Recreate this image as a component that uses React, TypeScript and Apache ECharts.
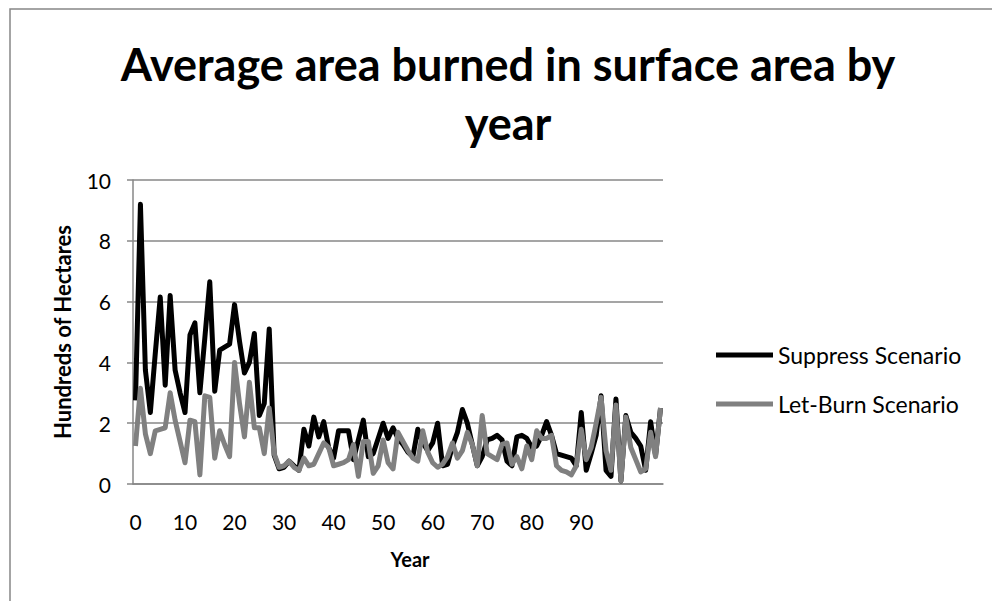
import React, { useEffect, useRef } from "react";
import * as echarts from "echarts";

// Simulation years on the category axis (0 .. 106)
const years: string[] = Array.from({ length: 107 }, (_, i) => String(i));
// Only these years carry a printed label under the axis
const labelledYears = ["0", "10", "20", "30", "40", "50", "60", "70", "80", "90"];

// Average area burned (hundreds of hectares), suppression policy
const suppress: number[] = [
  2.75, 9.2, 3.75, 2.35, 4.3, 6.15, 3.25, 6.2, 3.75, 3.0,
  2.35, 4.9, 5.3, 3.0, 4.8, 6.65, 3.05, 4.4, 4.5,
  4.6, 5.9, 4.7, 3.65, 4.0, 4.95, 2.25, 2.65, 5.1, 0.95,
  0.5, 0.55, 0.75, 0.6, 0.45, 1.8, 1.25, 2.2, 1.55, 2.05,
  1.2, 0.85, 1.75, 1.75,
  1.75, 0.8, 1.45, 2.1, 0.9, 1.0, 1.5, 2.0, 1.5, 1.85, 1.5, 1.3,
  1.05, 0.9, 1.8, 1.35, 1.1, 1.35, 2.0, 0.6, 0.65, 1.25,
  1.7, 2.45, 2.0, 1.3, 0.6, 0.9, 1.45, 1.5,
  1.6, 1.45, 0.75, 0.6, 1.55, 1.6, 1.5, 1.2, 1.25, 1.6,
  2.05, 1.6, 1.0, 0.95, 0.9,
  0.85, 0.6, 2.35, 0.45, 1.0, 1.6, 2.9, 0.45, 0.25, 2.8,
  0.1, 2.25, 1.7, 1.5,
  1.25, 0.45, 2.05, 0.95, 2.5,
];

// Average area burned (hundreds of hectares), let-burn policy
const letBurn: number[] = [
  1.25, 3.15, 1.65, 1.0, 1.75, 1.8, 1.85, 3.0, 2.1, 1.4,
  0.7, 2.1, 2.05, 0.3, 2.9, 2.85, 0.85, 1.75, 1.3,
  0.9, 4.0, 2.65, 1.55, 3.35, 1.85, 1.85, 1.0, 2.5, 1.0,
  0.55, 0.6, 0.75, 0.55, 0.45, 0.85, 0.6, 0.65, 1.0, 1.35,
  1.2, 0.6, 0.65, 0.7,
  0.8, 1.3, 0.25, 1.4, 1.4, 0.35, 0.6, 1.45, 0.7, 0.5, 1.7, 1.4,
  1.1, 0.85, 0.75, 1.75, 1.05, 0.7, 0.55, 0.65, 0.9, 1.35,
  0.85, 1.1, 1.7, 1.3, 0.6, 2.25, 1.0, 0.9,
  0.8, 1.3, 1.35, 0.65, 0.9, 0.5, 1.25, 0.8, 1.75, 1.5,
  1.5, 1.6, 0.6, 0.45, 0.4,
  0.3, 0.6, 1.8, 0.8, 1.2, 2.0, 2.85, 1.1, 0.45, 2.6,
  0.1, 2.2, 1.2, 0.8,
  0.4, 0.5, 1.7, 0.9, 2.5,
];

const seriesNames = ["Suppress Scenario", "Let-Burn Scenario"];
const seriesColors = ["#000000", "#808080"];

const FONT = "Lato";
const AXIS_GREY = "#878787";

export default function App() {
  const ref = useRef<HTMLDivElement>(null);

  useEffect(() => {
    const chart = echarts.init(ref.current!, null, { renderer: "svg" });
    chart.setOption({
      animation: false,
      backgroundColor: "#ffffff",
      title: {
        text: "Average area burned in surface area by\nyear",
        left: 503,
        top: 29,
        textAlign: "center",
        textStyle: {
          fontFamily: FONT,
          fontWeight: "bold",
          fontSize: 45,
          lineHeight: 59,
          color: "#000",
        },
      },
      graphic: [
        {
          type: "rect",
          shape: { x: 10, y: 9, width: 1000, height: 620 },
          style: { fill: "none", stroke: AXIS_GREY, lineWidth: 1.5 },
          silent: true,
          z: -1,
        },
      ],
      legend: {
        orient: "vertical",
        left: 716,
        top: 343,
        itemWidth: 57,
        itemHeight: 5,
        itemGap: 25,
        padding: 0,
        icon: "rect",
        data: seriesNames,
        textStyle: { fontFamily: FONT, fontSize: 23, lineHeight: 24, color: "#000" },
      },
      grid: { left: 133, right: 329, top: 180, bottom: 117 },
      xAxis: {
        type: "category",
        data: years,
        boundaryGap: true,
        name: "Year",
        nameLocation: "middle",
        nameGap: 65,
        nameTextStyle: {
          fontFamily: FONT,
          fontWeight: "bold",
          fontSize: 20,
          color: "#000",
          padding: [0, 0, 0, 24],
        },
        axisLine: { lineStyle: { color: AXIS_GREY, width: 1.5 } },
        axisTick: { interval: 0, length: 5, lineStyle: { color: AXIS_GREY, width: 1 } },
        axisLabel: {
          interval: 9,
          fontFamily: FONT,
          fontSize: 21,
          color: "#000",
          margin: 27,
          formatter: (v: string) => (labelledYears.includes(v) ? v : ""),
        },
        splitLine: { show: false },
      },
      yAxis: {
        type: "value",
        min: 0,
        max: 10,
        interval: 2,
        name: "Hundreds of Hectares",
        nameLocation: "middle",
        nameRotate: 90,
        nameGap: 60,
        nameTextStyle: { fontFamily: FONT, fontWeight: "bold", fontSize: 22, color: "#000" },
        axisLine: { show: true, lineStyle: { color: AXIS_GREY, width: 1.5 } },
        axisTick: { show: true, length: 6, lineStyle: { color: AXIS_GREY, width: 1.5 } },
        axisLabel: { fontFamily: FONT, fontSize: 21, color: "#000", margin: 22 },
        splitLine: { lineStyle: { color: AXIS_GREY, width: 1.5 } },
      },
      series: [
        {
          name: seriesNames[0],
          type: "line",
          data: suppress,
          symbol: "none",
          color: seriesColors[0],
          lineStyle: { width: 5, color: seriesColors[0], join: "round" },
          z: 2,
        },
        {
          name: seriesNames[1],
          type: "line",
          data: letBurn,
          symbol: "none",
          color: seriesColors[1],
          lineStyle: { width: 5, color: seriesColors[1], join: "round" },
          z: 3,
        },
      ],
    });
    return () => chart.dispose();
  }, []);

  return (
    <div
      ref={ref}
      style={{ position: "absolute", left: 0, top: 0, width: 992, height: 601, background: "#fff" }}
    />
  );
}
